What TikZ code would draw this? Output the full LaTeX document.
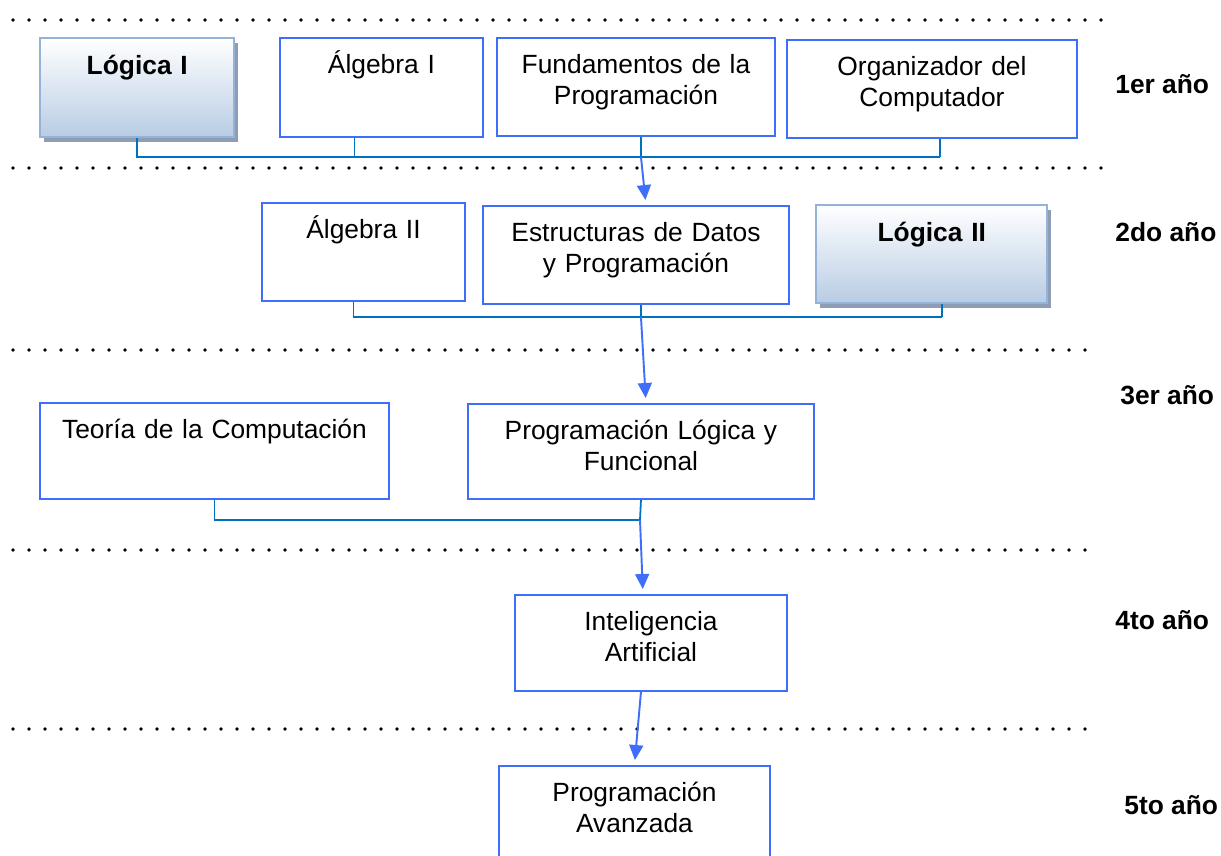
\documentclass[tikz,border=0pt]{standalone}
\usepackage{fontspec}
\setmainfont{Liberation Sans}
\usepackage{xcolor}
\usepackage{tikz}
\usetikzlibrary{arrows.meta, shadows}

\definecolor{boxblue}{HTML}{3F6EFA}
\definecolor{busblue}{HTML}{0070C0}
\definecolor{paleblue}{HTML}{B8CCE4}
\definecolor{edgeblue}{HTML}{95B3D7}
\definecolor{shadowgrey}{HTML}{8C9DB5}

% one unit = one pixel of the layout grid
\newlength{\px}
\setlength{\px}{0.2mm}

\begin{document}
\begin{tikzpicture}[x=0.2mm, y=-0.2mm, font=\fontsize{15}{17.3}\selectfont]
	\tikzstyle{course} = [draw=boxblue, line width=1.1pt, fill=white, anchor=north west, inner sep=0pt, align=center, text height=36\px]
	\tikzstyle{logic} = [course, draw=edgeblue, line width=1.4pt, top color=white, bottom color=paleblue, font=\fontsize{15}{17.3}\selectfont\bfseries, drop shadow={shadow xshift=4\px, shadow yshift=-5\px, fill=shadowgrey, opacity=1}]
	\tikzstyle{year} = [anchor=base west, inner sep=0pt, font=\fontsize{15}{17.3}\selectfont\bfseries]
	\tikzstyle{rule} = [line width=2.2pt, line cap=round, dash pattern=on 0pt off 3.2mm]
	\tikzstyle{bus} = [line width=1pt, draw=busblue]
	\tikzstyle{arrow} = [line width=1.1pt, draw=boxblue, -{Triangle[length=3mm, width=2.8mm]}, shorten >=1mm]

	\useasboundingbox (0,0) rectangle (1221,855);

	% separators between the years
	\foreach \y/\e in {20/1103, 168/1103, 350/1088, 550/1088, 729/1088}
		\draw[rule] (13,\y) -- (\e,\y);

	% 1er ano
	\node[logic, text width=194\px, text depth=63\px]	at (39, 37)		(logI)	{Lógica I};
	\node[course, text width=203\px, text depth=63\px]	at (279, 37)	(alg1)	{Álgebra I};
	\node[course, text width=278\px, text depth=62\px]	at (496, 37)	(fund)	{Fundamentos de la\\Programación};
	\node[course, text width=290\px, text depth=62\px]	at (786, 39)	(orgc)	{Organizador del\\Computador};

	% 2do ano
	\node[course, text width=203\px, text depth=62\px]	at (261, 202)	(alg2)	{Álgebra II};
	\node[course, text width=306\px, text depth=62\px]	at (482, 205)	(edp)	{Estructuras de Datos\\y Programación};
	\node[logic, text width=231\px, text depth=62\px]	at (815, 204)	(logII)	{Lógica II};

	% 3er ano
	\node[course, text width=349\px, text depth=60\px]	at (39, 402)	(teo)	{Teoría de la Computación};
	\node[course, text width=346\px, text depth=59\px]	at (467, 403)	(plf)	{Programación Lógica y\\Funcional};

	% 4to y 5to ano
	\node[course, text width=272\px, text depth=60\px]	at (514, 594)	(ia)	{Inteligencia\\Artificial};
	\node[course, text width=271\px, text depth=74\px]	at (498, 765)	(pa)	{Programación\\Avanzada};

	\node[year]	at (1115, 93)	(y1)	{1er año};
	\node[year]	at (1115, 241)	(y2)	{2do año};
	\node[year]	at (1120, 404)	(y3)	{3er año};
	\node[year]	at (1115, 629)	(y4)	{4to año};
	\node[year]	at (1124, 814)	(y5)	{5to año};

	\coordinate (b1) at (940, 157);
	\coordinate (b2) at (942, 317);
	\coordinate (b3) at (640, 520);

	\draw[bus] (logI.south) |- (b1);
	\draw[bus] ([xshift=-27\px]alg1.south) -- ([xshift=-27\px]alg1.south |- b1);
	\draw[bus] ([xshift=5\px]fund.south) -- ([xshift=5\px]fund.south |- b1);
	\draw[bus] (b1) -- (b1 |- orgc.south);
	\draw[arrow] ([xshift=5\px]fund.south |- b1) -- ([xshift=10\px]edp.north);

	\draw[bus] ([xshift=-10\px]alg2.south) |- (b2);
	\draw[bus] (b2) -- (b2 |- logII.south);
	\draw[bus] ([xshift=5\px]edp.south) -- ([xshift=5\px]edp.south |- b2);
	\draw[arrow] ([xshift=5\px]edp.south |- b2) -- ([xshift=5\px]plf.north);

	\draw[bus] (teo.south) |- (b3);
	\draw[bus] (plf.south) -- (b3);
	\draw[arrow] (b3) -- ([xshift=-8\px]ia.north);

	\draw[arrow] ([xshift=-10\px]ia.south) -- (pa.north);
\end{tikzpicture}
\end{document}
